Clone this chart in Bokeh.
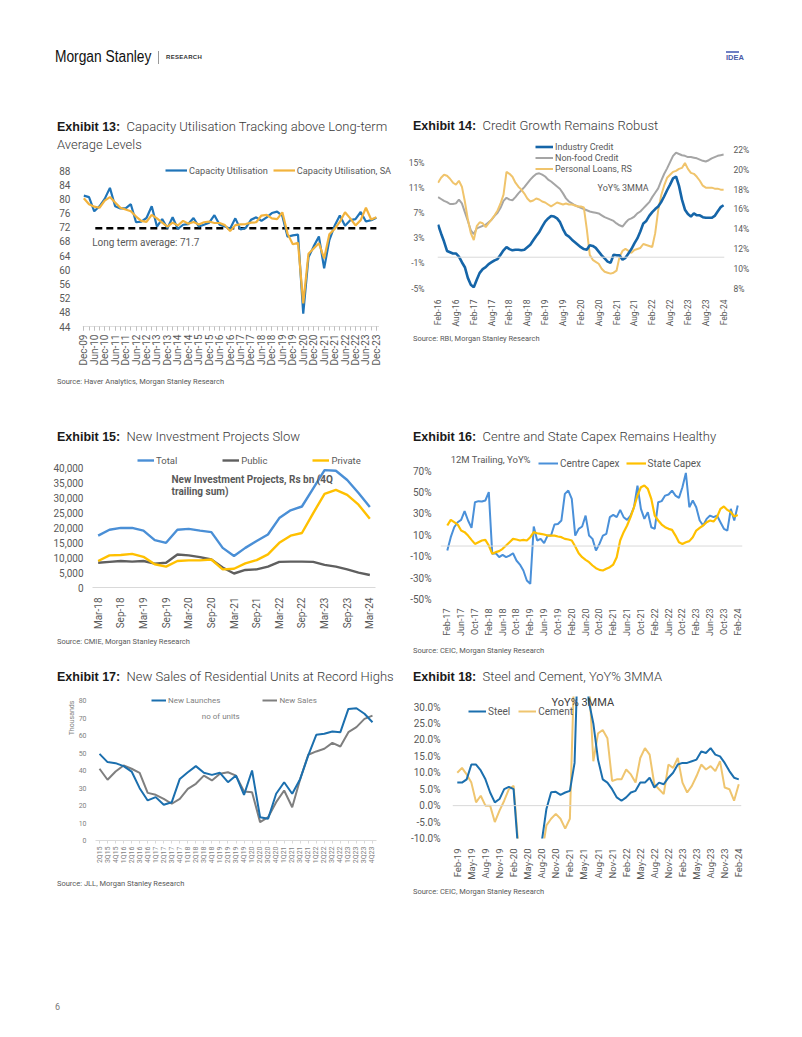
import math
from bokeh.plotting import figure
from bokeh.models import (Div, Spacer, Range1d, LinearAxis, FixedTicker, Legend,
                          LegendItem, Span, Label, PrintfTickFormatter, NumeralTickFormatter)
from bokeh.layouts import column, row
from bokeh.embed import file_html
from bokeh.resources import INLINE

# ---------------- data ----------------
# Exhibit 13 (quarterly, Dec-09 .. Dec-23)
ex13_labels = ["Dec-09", "Jun-10", "Dec-10", "Jun-11", "Dec-11", "Jun-12", "Dec-12", "Jun-13",
               "Dec-13", "Jun-14", "Dec-14", "Jun-15", "Dec-15", "Jun-16", "Dec-16", "Jun-17",
               "Dec-17", "Jun-18", "Dec-18", "Jun-19", "Dec-19", "Jun-20", "Dec-20", "Jun-21",
               "Dec-21", "Jun-22", "Dec-22", "Jun-23", "Dec-23"]
cap_util = [80.9, 80.5, 76.5, 77.9, 80.0, 83.1, 77.9, 77.3, 77.3, 78.5,
            73.4, 73.6, 74.6, 77.9, 72.2, 74.3, 71.7, 74.8, 71.5, 72.7,
            72.9, 74.6, 72.2, 72.7, 73.3, 75.4, 72.7, 72.2, 71.6, 74.5,
            71.4, 71.8, 74.1, 74.8, 73.8, 74.8, 76.0, 76.4, 75.2, 69.3,
            69.7, 69.9, 47.6, 63.5, 66.6, 69.4, 60.4, 68.4, 72.4, 75.3,
            72.4, 74.0, 74.3, 76.3, 73.6, 74.0, 74.7]
cap_util_sa = [80.2, 78.5, 77.8, 77.5, 79.5, 80.5, 79.0, 77.5, 77.0, 76.5,
               75.0, 73.8, 73.5, 75.5, 74.5, 73.3, 72.2, 73.3, 72.5, 73.8,
               73.0, 73.5, 72.8, 73.4, 73.6, 73.2, 73.2, 72.6, 70.9, 72.6,
               72.8, 72.9, 73.3, 73.4, 75.3, 75.5, 74.5, 74.3, 76.2, 70.2,
               67.2, 67.6, 50.5, 64.5, 66.0, 67.5, 63.2, 70.0, 71.5, 73.5,
               76.2, 74.5, 72.5, 74.0, 77.5, 74.2, 74.8]
long_term_avg = 71.7

# Exhibit 14 (monthly, Feb-16 .. Feb-24)
ex14_labels = ["Feb-16", "Aug-16", "Feb-17", "Aug-17", "Feb-18", "Aug-18", "Feb-19", "Aug-19",
               "Feb-20", "Aug-20", "Feb-21", "Aug-21", "Feb-22", "Aug-22", "Feb-23", "Aug-23", "Feb-24"]
industry_credit = [5.2, 3.8, 2.5, 1.0, 0.8, 0.6, 0.6, 0.1, -0.8, -1.6,
                   -3.3, -4.4, -4.8, -3.6, -2.5, -1.9, -1.6, -1.1, -0.8, -0.5,
                   -0.3, 0.4, 1.1, 1.6, 1.3, 1.1, 1.2, 1.2, 1.1, 1.2,
                   1.6, 2.0, 2.7, 3.4, 4.0, 4.9, 5.7, 6.2, 6.6, 6.5,
                   6.2, 5.6, 4.5, 3.6, 3.3, 2.8, 2.4, 2.0, 1.6, 1.3,
                   1.2, 1.9, 1.8, 1.5, 0.9, 0.3, -0.2, -0.7, -0.9, 0.4,
                   0.3, 0.3, -0.4, -0.1, 0.6, 1.3, 2.2, 3.0, 4.1, 5.4,
                   5.8, 6.6, 7.2, 7.7, 8.1, 8.8, 9.7, 10.7, 11.6, 12.6,
                   12.9, 11.4, 9.2, 7.6, 6.9, 6.5, 7.0, 6.7, 6.7, 6.4,
                   6.3, 6.3, 6.3, 6.6, 7.3, 8.0, 8.3]
nonfood_credit = [9.6, 9.3, 9.0, 8.8, 8.5, 8.5, 8.6, 9.2, 8.6, 7.2,
                  5.8, 4.3, 3.7, 4.6, 4.8, 5.0, 5.2, 5.6, 6.0, 6.6,
                  7.1, 7.9, 9.0, 9.5, 9.2, 9.1, 9.6, 10.2, 10.7, 11.2,
                  11.8, 12.4, 12.9, 13.3, 13.4, 13.2, 12.9, 12.4, 12.1, 11.7,
                  11.3, 10.9, 10.2, 9.4, 8.9, 8.6, 8.3, 8.1, 7.9, 7.7,
                  7.5, 7.3, 7.2, 7.1, 7.0, 6.7, 6.4, 6.2, 6.0, 5.8,
                  5.4, 5.1, 4.9, 5.5, 6.0, 6.2, 6.5, 7.0, 7.3, 7.8,
                  8.3, 8.8, 9.6, 10.3, 11.0, 12.2, 13.3, 14.2, 15.2, 16.2,
                  16.7, 16.5, 16.3, 16.2, 16.0, 16.0, 15.9, 15.8, 15.6, 15.4,
                  15.3, 15.5, 15.8, 16.0, 16.2, 16.3, 16.4]
personal_loans = [18.7, 19.2, 19.5, 19.4, 19.1, 18.7, 18.5, 18.9, 18.3, 16.8,
                  15.0, 13.6, 12.9, 14.3, 14.7, 14.6, 14.2, 14.6, 15.0, 15.4,
                  15.9, 16.6, 17.5, 19.8, 19.6, 19.3, 18.7, 18.3, 18.0, 17.6,
                  17.1, 16.8, 16.9, 17.1, 17.0, 16.8, 16.7, 16.5, 16.3, 16.5,
                  16.7, 16.6, 16.5, 16.6, 16.5, 16.5, 16.4, 16.3, 16.3, 16.2,
                  14.0, 11.4, 10.9, 10.7, 10.5, 10.0, 9.7, 9.6, 9.5, 9.6,
                  9.8, 11.2, 11.8, 12.0, 11.8, 11.6, 11.9, 12.0, 12.1, 12.5,
                  12.4, 12.3, 12.2, 13.6, 15.9, 17.4, 18.4, 19.2, 19.5, 19.8,
                  19.9, 20.1, 20.2, 20.7, 20.1, 19.7, 19.6, 19.3, 18.9, 18.4,
                  18.2, 18.2, 18.2, 18.1, 18.1, 18.0, 18.0]

# Exhibit 15 (quarterly, Mar-18 .. Mar-24), Rs bn
ex15_labels = ["Mar-18", "Sep-18", "Mar-19", "Sep-19", "Mar-20", "Sep-20", "Mar-21",
               "Sep-21", "Mar-22", "Sep-22", "Mar-23", "Sep-23", "Mar-24"]
proj_total = [17400, 19400, 20000, 20000, 19100, 15900, 15000, 19400, 19700, 19100,
              18600, 13300, 10600, 13300, 15600, 17800, 23300, 25900, 27200, 33300,
              39400, 39200, 36100, 31700, 27000]
proj_public = [8300, 8600, 8900, 8700, 8900, 8000, 8300, 11100, 10800, 10200,
               9400, 6700, 4700, 5900, 6100, 7000, 8600, 8700, 8700, 8600,
               7600, 7000, 6100, 5000, 4200]
proj_private = [8900, 10800, 10900, 11300, 10300, 7800, 7000, 8900, 9100, 9100,
                9400, 6100, 6300, 8100, 9200, 11100, 15000, 17400, 18300, 25000,
                31400, 32800, 31100, 27800, 23100]

# Exhibit 16 (monthly, Feb-17 .. Feb-24), 12M trailing YoY%
ex16_labels = ["Feb-17", "Jun-17", "Oct-17", "Feb-18", "Jun-18", "Oct-18", "Feb-19", "Jun-19",
               "Oct-19", "Feb-20", "Jun-20", "Oct-20", "Feb-21", "Jun-21", "Oct-21", "Feb-22",
               "Jun-22", "Oct-22", "Feb-23", "Jun-23", "Oct-23", "Feb-24"]
centre_capex = [-4.2, 8.3, 17.6, 22.3, 24.5, 32.6, 23.9, 17.0, 41.0, 42.0,
                41.6, 42.6, 50.4, -7.3, -6.7, -10.4, -8.2, -10.4, -8.9, -6.7,
                -13.5, -17.3, -22.9, -32.2, -35.4, 18.3, 5.2, 6.7, 2.7, 9.8,
                9.8, 20.1, 20.7, 23.9, 48.8, 51.9, 44.1, 9.8, 16.1, 18.3,
                28.5, 9.8, 6.7, -4.2, 2.0, 9.8, 11.4, 27.0, 29.2, 27.0,
                33.8, 27.0, 24.5, 28.5, 36.3, 56.6, 34.8, 25.4, 31.7, 17.6,
                16.1, 41.0, 42.0, 47.2, 48.2, 51.9, 47.2, 45.1, 55.0, 68.4,
                36.3, 42.6, 36.3, 23.9, 19.2, 25.4, 28.5, 27.0, 28.5, 22.3,
                16.1, 14.5, 34.8, 23.9, 37.9]
state_capex = [19.2, 24.5, 22.3, 20.1, 14.5, 13.0, 9.8, 5.8, 2.0, 3.6,
               5.2, 5.8, 0.5, -7.3, -5.7, -4.8, -2.6, 0.5, 3.6, 6.7,
               6.1, 5.2, 5.8, 5.2, 8.3, 13.0, 12.0, 11.4, 10.8, 9.8,
               9.8, 9.8, 8.9, 8.3, 6.7, 6.1, 5.2, -0.4, -6.7, -10.4,
               -12.9, -15.1, -18.2, -20.7, -22.3, -22.9, -21.3, -19.8, -17.3, -10.4,
               5.2, 13.0, 19.2, 27.0, 36.3, 47.2, 55.0, 56.6, 53.5, 44.1,
               28.5, 23.9, 20.1, 17.6, 16.1, 15.1, 9.8, 3.6, 2.0, 3.6,
               4.6, 8.3, 14.5, 17.0, 19.2, 22.3, 23.9, 22.9, 27.0, 34.8,
               37.0, 33.8, 31.7, 27.6, 29.0]

# Exhibit 17 (quarterly, 2Q15 .. 4Q23), thousands of units
ex17_labels = ["2Q15", "3Q15", "4Q15", "1Q16", "2Q16", "3Q16", "4Q16", "1Q17", "2Q17", "3Q17",
               "4Q17", "1Q18", "2Q18", "3Q18", "4Q18", "1Q19", "2Q19", "3Q19", "4Q19", "1Q20",
               "2Q20", "3Q20", "4Q20", "1Q21", "2Q21", "3Q21", "4Q21", "1Q22", "2Q22", "3Q22",
               "4Q22", "1Q23", "2Q23", "3Q23", "4Q23"]
new_launches = [49.5, 44.8, 44.2, 42.5, 39.4, 29.9, 22.9, 24.8, 20.4, 21.9,
                35.2, 39.0, 42.5, 38.7, 37.5, 38.7, 33.3, 37.1, 26.1, 40.0,
                13.3, 12.4, 26.7, 33.3, 26.7, 35.2, 48.6, 60.4, 61.0, 62.3,
                61.9, 75.2, 75.6, 72.4, 67.6]
new_sales = [41.0, 34.7, 39.4, 42.9, 41.0, 38.7, 27.2, 26.1, 23.8, 21.0,
             23.8, 29.5, 32.4, 37.1, 34.3, 38.1, 39.0, 37.1, 28.0, 27.6,
             10.5, 13.3, 21.9, 28.6, 19.0, 35.2, 49.0, 50.9, 52.4, 55.8,
             53.7, 61.9, 64.8, 69.5, 71.4]

# Exhibit 18 (monthly, Feb-19 .. Feb-24), YoY% 3MMA
ex18_labels = ["Feb-19", "May-19", "Aug-19", "Nov-19", "Feb-20", "May-20", "Aug-20", "Nov-20",
               "Feb-21", "May-21", "Aug-21", "Nov-21", "Feb-22", "May-22", "Aug-22", "Nov-22",
               "Feb-23", "May-23", "Aug-23", "Nov-23", "Feb-24"]
steel = [7.0, 7.0, 8.0, 12.5, 12.5, 10.7, 8.0, 4.0, 1.0, 2.0,
         5.0, 5.7, 5.0, -14, -35, -50, -40, -25, -11, -1.0,
         4.1, 4.2, 3.3, 4.0, 4.5, 13.0, 60, 60, 32, 25,
         14, 8, 7, 5, 2.5, 1.5, 2.5, 4, 4.5, 7,
         7, 8.5, 5.5, 7, 6.5, 8.5, 10, 12.5, 13, 13,
         13.5, 14, 16.5, 16, 17.5, 15.5, 15, 13, 10.5, 8.5, 8.0]
cement = [10, 11.5, 9.5, 7, 1, 3, 0, 0, -5, -1.5,
          1.5, 5, 6, -12, -40, -60, -40, -25, -15, -6,
          -4, -2.5, -4, -7, -4, 45, 80, 60, 40, 13.5,
          22, 23, 20.5, 7.5, 8, 8, 11, 9.5, 7, 14.5,
          17.5, 15.5, 6.5, 5, 3.5, 12.5, 11.5, 14.5, 7, 4,
          6, 9, 12.5, 11, 12, 10.5, 13.5, 5.5, 5, 1.5, 6.5]

# ---------------- helpers ----------------
FONT = "Roboto"
GRAY = "#595959"


def new_fig(w, h, xr, yr, bl, br, bt, bb):
    p = figure(width=w, height=h, x_range=Range1d(*xr), y_range=Range1d(*yr),
               output_backend="svg", toolbar_location=None,
               min_border_left=bl, min_border_right=br, min_border_top=bt, min_border_bottom=bb)
    p.outline_line_color = None
    p.xgrid.visible = False
    p.ygrid.visible = False
    return p


def style_axis(ax, size, standoff=4, color=GRAY):
    ax.major_label_text_font = FONT
    ax.major_label_text_font_size = size
    ax.major_label_text_color = color
    ax.major_label_standoff = standoff
    ax.axis_line_color = None
    ax.major_tick_line_color = None
    ax.minor_tick_line_color = None


def cat_axis(ax, labels, step, size, standoff, minor=None, color=GRAY):
    ticks = [i * step for i in range(len(labels))]
    ax.ticker = FixedTicker(ticks=ticks, minor_ticks=minor or [])
    ax.major_label_overrides = {t: l for t, l in zip(ticks, labels)}
    ax.major_label_orientation = math.pi / 2
    style_axis(ax, size, standoff, color)


def add_legend(p, items, loc, orientation, size, glyph_w, spacing, lh=12, standoff=2, color=GRAY):
    lg = Legend(items=items, location=loc, orientation=orientation,
                label_text_font=FONT, label_text_font_size=size, label_text_color=color,
                glyph_width=glyph_w, glyph_height=lh, label_height=lh, label_standoff=standoff,
                spacing=spacing, padding=0, margin=0,
                background_fill_alpha=0, border_line_alpha=0)
    p.add_layout(lg)


def title_div(num, text, width, height, pad_top, pad_left):
    html = ('<div style="padding:%dpx 0 0 %dpx;font-family:Roboto,sans-serif;font-size:13px;'
            'line-height:18px;color:#3a3a3a;font-weight:300;white-space:nowrap;">'
            '<span style="font-family:\'Liberation Sans\',Arial,sans-serif;font-weight:700;'
            'color:#1a1a1a;font-size:12.5px;">Exhibit %s:</span>&nbsp; %s</div>'
            % (pad_top, pad_left, num, text))
    return Div(text=html, width=width, height=height, margin=0)


def source_div(text, width, height, pad_top, pad_left):
    html = ('<div style="margin-top:%dpx;padding-left:%dpx;font-family:Roboto,sans-serif;font-size:7.5px;'
            'line-height:10px;color:#595959;white-space:nowrap;">%s</div>' % (pad_top, pad_left, text))
    return Div(text=html, width=width, height=height, margin=0)


# ---------------- Exhibit 13 ----------------
p13 = new_fig(348, 210, (-0.25, 59.85), (44, 90.26), 32, 2, 0, 46)
x13 = list(range(len(cap_util)))
x13_span = [x13[0] - 0.25, x13[-1] + 0.5]
p13.line(x13_span, [44, 44], line_color="#bfbfbf", line_width=1)
p13.line([x13[0] + 2.2, x13[-1]], [long_term_avg, long_term_avg], line_color="black",
         line_width=2.5, line_dash="7 4")
r13a = p13.line(x13, cap_util, line_color="#1f74b8", line_width=2.2)
r13b = p13.line(x13, cap_util_sa, line_color="#f2b33d", line_width=2.2)
cat_axis(p13.xaxis[0], ex13_labels, 2, "10px", 4, minor=list(range(len(cap_util))))
ax = p13.xaxis[0]
ax.axis_line_color = None
ax.major_tick_line_color = "#bfbfbf"
ax.minor_tick_line_color = "#bfbfbf"
ax.major_tick_out = 4
ax.major_tick_in = 0
ax.minor_tick_out = 4
ax.minor_tick_in = 0
p13.yaxis[0].ticker = FixedTicker(ticks=list(range(44, 89, 4)))
style_axis(p13.yaxis[0], "10px", 6)
p13.add_layout(Label(x=1.6, y=67.6, text="Long term average: %.1f" % long_term_avg,
                     text_font=FONT, text_font_size="10px", text_color=GRAY,
                     text_baseline="middle"))
add_legend(p13, [LegendItem(label="Capacity Utilisation", renderers=[r13a]),
                 LegendItem(label="Capacity Utilisation, SA", renderers=[r13b])],
           (83, 150), "horizontal", "9.2px", 22, 5)

# ---------------- Exhibit 14 ----------------
p14 = new_fig(350, 189, (-0.2, 96.3), (-5, 18.49), 32, 31, 1, 40)
p14.extra_y_ranges = {"rs": Range1d(8, 22.87)}
x14 = list(range(len(industry_credit)))
p14.add_layout(Span(location=0, dimension="width", line_color="#d9d9d9", line_width=1))
r14b = p14.line(x14, nonfood_credit, line_color="#a5a5a5", line_width=2)
r14c = p14.line(x14, personal_loans, line_color="#f0c46c", line_width=2, y_range_name="rs")
r14a = p14.line(x14, industry_credit, line_color="#1565a8", line_width=2.6)
cat_axis(p14.xaxis[0], ex14_labels, 6, "8.5px", 5)
p14.yaxis[0].ticker = FixedTicker(ticks=[-5, -1, 3, 7, 11, 15])
p14.yaxis[0].formatter = PrintfTickFormatter(format="%d%%")
style_axis(p14.yaxis[0], "8.5px", 7)
ry = LinearAxis(y_range_name="rs", ticker=FixedTicker(ticks=list(range(8, 23, 2))),
                formatter=PrintfTickFormatter(format="%d%%"))
style_axis(ry, "8.5px", 3)
p14.add_layout(ry, "right")
p14.add_layout(Label(x=53.6, y=11.1, text="YoY% 3MMA", text_font=FONT, text_font_size="9px",
                     text_color=GRAY, text_baseline="middle"))
add_legend(p14, [LegendItem(label="Industry Credit", renderers=[r14a]),
                 LegendItem(label="Non-food Credit", renderers=[r14b]),
                 LegendItem(label="Personal Loans, RS", renderers=[r14c])],
           (98, 114), "vertical", "9px", 18, 0, lh=11)

# ---------------- Exhibit 15 ----------------
p15 = new_fig(340, 182, (-0.5, 24.5), (0, 46000), 35, 15, 0, 44)
x15 = list(range(len(proj_total)))
r15a = p15.line(x15, proj_total, line_color="#4a8fd6", line_width=2.4)
r15b = p15.line(x15, proj_public, line_color="#5f5f5f", line_width=2.4)
r15c = p15.line(x15, proj_private, line_color="#ffc000", line_width=2.4)
cat_axis(p15.xaxis[0], ex15_labels, 2, "10px", 4)
p15.xaxis[0].axis_line_color = "#d9d9d9"
p15.yaxis[0].ticker = FixedTicker(ticks=list(range(0, 40001, 5000)))
p15.yaxis[0].formatter = NumeralTickFormatter(format="0,0")
style_axis(p15.yaxis[0], "10px", 3)
p15.add_layout(Label(x=6.48, y=36100, text="New Investment Projects, Rs bn (4Q",
                     text_font=FONT, text_font_size="10px",
                     text_font_style="bold", text_color=GRAY, text_baseline="middle"))
p15.add_layout(Label(x=6.48, y=32100, text="trailing sum)",
                     text_font=FONT, text_font_size="10px",
                     text_font_style="bold", text_color=GRAY, text_baseline="middle"))
add_legend(p15, [LegendItem(label="Total", renderers=[r15a]),
                 LegendItem(label="Public", renderers=[r15b]),
                 LegendItem(label="Private", renderers=[r15c])],
           (45, 121), "horizontal", "9.5px", 17, 45)

# ---------------- Exhibit 16 ----------------
p16 = new_fig(350, 190, (-1.97, 85.38), (-50, 87.5), 35, 13, 2, 41)
x16 = list(range(len(centre_capex)))
p16.add_layout(Span(location=0, dimension="width", line_color="#d9d9d9", line_width=1))
r16a = p16.line(x16, centre_capex, line_color="#4a90d9", line_width=2)
r16b = p16.line(x16, state_capex, line_color="#ffc000", line_width=2.2)
cat_axis(p16.xaxis[0], ex16_labels, 4, "9px", 3)
p16.yaxis[0].ticker = FixedTicker(ticks=list(range(-50, 71, 20)))
p16.yaxis[0].formatter = PrintfTickFormatter(format="%d%%")
style_axis(p16.yaxis[0], "10px", 3)
p16.add_layout(Label(x=0.97, y=80.7, text="12M Trailing, YoY%", text_font=FONT,
                     text_font_size="9.5px", text_color=GRAY, text_baseline="middle"))
add_legend(p16, [LegendItem(label="Centre Capex", renderers=[r16a]),
                 LegendItem(label="State Capex", renderers=[r16b])],
           (98, 130), "horizontal", "10px", 20, 6)

# ---------------- Exhibit 17 ----------------
p17 = new_fig(315, 182, (-0.5, 34.5), (0, 82.86), 14, 14, 7, 30)
x17 = list(range(len(new_launches)))
r17b = p17.line(x17, new_sales, line_color="#7f7f7f", line_width=2)
r17a = p17.line(x17, new_launches, line_color="#1b6fae", line_width=2)
cat_axis(p17.xaxis[0], ex17_labels, 1, "7px", 3, color="#7f7f7f")
ax = p17.xaxis[0]
ax.axis_line_color = "#d9d9d9"
ax.major_tick_line_color = "#d9d9d9"
ax.major_tick_out = 3
ax.major_tick_in = 0
p17.yaxis[0].ticker = FixedTicker(ticks=list(range(0, 81, 10)))
style_axis(p17.yaxis[0], "7px", 3, color="#7f7f7f")
p17.add_layout(Label(x=15.1, y=71.0, text="no of units", text_font=FONT, text_font_size="8px",
                     text_color="#7f7f7f", text_align="center", text_baseline="middle"))
add_legend(p17, [LegendItem(label="New Launches", renderers=[r17a]),
                 LegendItem(label="New Sales", renderers=[r17b])],
           (56, 135), "horizontal", "8px", 15, 42, lh=10, color="#7f7f7f")
thousands = Div(text=('<div style="position:relative;width:25px;height:182px;">'
                      '<div style="position:absolute;left:22px;top:30px;transform:translate(-50%,-50%) rotate(-90deg);'
                      'font-family:Roboto,sans-serif;font-size:7px;line-height:8px;color:#7f7f7f;'
                      'white-space:nowrap;">Thousands</div></div>'), width=25, height=182, margin=0)

# ---------------- Exhibit 18 ----------------
p18 = new_fig(350, 194, (-1.02, 60.58), (-10, 33.2), 47, 14, 8, 42)
x18 = list(range(len(steel)))
p18.add_layout(Span(location=0, dimension="width", line_color="#d9d9d9", line_width=1))
r18b = p18.line(x18, cement, line_color="#efc56f", line_width=2)
r18a = p18.line(x18, steel, line_color="#1b6fae", line_width=2)
cat_axis(p18.xaxis[0], ex18_labels, 3, "9.5px", 4)
p18.yaxis[0].ticker = FixedTicker(ticks=list(range(-10, 31, 5)))
p18.yaxis[0].formatter = PrintfTickFormatter(format="%.1f%%")
style_axis(p18.yaxis[0], "10px", 6)
p18.add_layout(Label(x=26.75, y=31.3, text="YoY% 3MMA", text_font=FONT, text_font_size="11px",
                     text_color="#404040", text_align="center", text_baseline="middle"))
add_legend(p18, [LegendItem(label="Steel", renderers=[r18a]),
                 LegendItem(label="Cement", renderers=[r18b])],
           (16, 121), "horizontal", "10px", 18, 8)

# ---------------- page layout ----------------
header = Div(text=(
    '<div style="position:relative;width:802px;height:110px;">'
    '<div style="position:absolute;left:55px;top:48px;font-family:\'Liberation Sans\',sans-serif;'
    'font-size:16px;line-height:18px;color:#111;white-space:nowrap;transform:scaleX(0.86);'
    'transform-origin:0 0;">Morgan Stanley</div>'
    '<div style="position:absolute;left:158px;top:51px;width:1px;height:13px;background:#999;"></div>'
    '<div style="position:absolute;left:166px;top:54px;font-family:\'Liberation Sans\',sans-serif;'
    'font-size:6px;line-height:7px;font-weight:700;color:#333;letter-spacing:0.3px;">RESEARCH</div>'
    '<div style="position:absolute;left:726px;top:51px;width:13px;height:2px;background:#6f7fc4;"></div>'
    '<div style="position:absolute;left:726px;top:54px;font-family:\'Liberation Sans\',sans-serif;'
    'font-size:7.5px;line-height:8px;font-weight:700;color:#4a5ca8;">IDEA</div>'
    '</div>'), width=802, height=110, margin=0)

col13 = column(title_div("13", "Capacity Utilisation Tracking above Long-term<br>Average Levels", 348, 52, 8, 7),
               p13, source_div("Source: Haver Analytics, Morgan Stanley Research", 348, 23, -4, 7), spacing=0)
col14 = column(title_div("14", "Credit Growth Remains Robust", 350, 30, 7, 8),
               p14, source_div("Source: RBI, Morgan Stanley Research", 350, 20, 5, 8), spacing=0)
col15 = column(title_div("15", "New Investment Projects Slow", 340, 30, 8, 7),
               p15, source_div("Source: CMIE, Morgan Stanley Research", 340, 20, -2, 7), spacing=0)
col16 = column(title_div("16", "Centre and State Capex Remains Healthy", 350, 30, 8, 8),
               p16, source_div("Source: CEIC, Morgan Stanley Research", 350, 20, 6, 8), spacing=0)
col17 = column(title_div("17", "New Sales of Residential Units at Record Highs", 340, 28, 8, 7),
               row(thousands, p17, spacing=0),
               source_div("Source: JLL, Morgan Stanley Research", 340, 25, 9, 7), spacing=0)
col18 = column(title_div("18", "Steel and Cement, YoY% 3MMA", 350, 28, 8, 8),
               p18, source_div("Source: CEIC, Morgan Stanley Research", 350, 18, 2, 8), spacing=0)

row1 = row(Spacer(width=50, height=10), col13, Spacer(width=7, height=10), col14, spacing=0)
row2 = row(Spacer(width=50, height=10), col15, Spacer(width=15, height=10), col16, spacing=0)
row3 = row(Spacer(width=50, height=10), col17, Spacer(width=15, height=10), col18, spacing=0)

footer = Div(text='<div style="padding:3px 0 0 55px;font-family:Roboto,sans-serif;font-size:9px;'
                  'line-height:10px;color:#777;">6</div>', width=200, height=20, margin=0)

page = column(header, row1, Spacer(width=10, height=25), row2, row3,
              Spacer(width=10, height=98), footer, spacing=0)

open("out.html", "w").write(file_html(page, INLINE, title="Exhibits 13-18"))
